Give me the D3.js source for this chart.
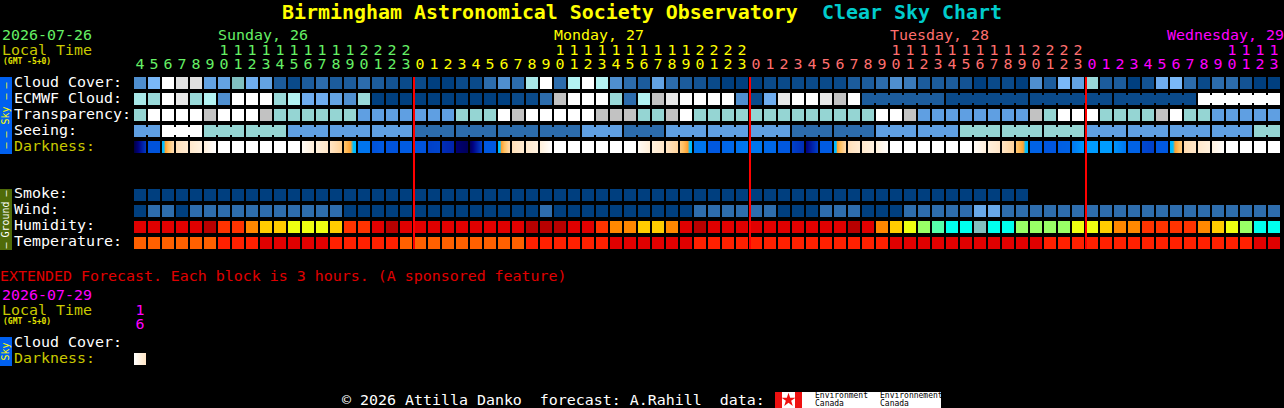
<!DOCTYPE html>
<html>
<head>
<meta charset="utf-8">
<title>Clear Sky Chart</title>
<script src="https://cdn.jsdelivr.net/npm/d3@7"></script>
<style>
html, body { margin: 0; padding: 0; background: #000; overflow: hidden; }
svg { display: block; }
text { font-family: "DejaVu Sans Mono", monospace; white-space: pre; }
rect { shape-rendering: crispEdges; }
</style>
</head>
<body>
<div id="chart"></div>
<script>
// cloud cover, percent
const cloudCover = [
  40,60,100,85,85,50,50,65,55,50,15,4,15,20,15,15,20,15,10,4,
  4,0,0,4,4,20,40,20,75,100,20,80,100,80,40,20,15,50,20,15,10,4,0,0,
  0,4,4,4,4,4,4,15,15,20,40,30,15,15,15,10,0,4,4,0,40,15,60,50,
  70,15,15,0,10,55,60,20,4,20,20,10,0,0
];
const ecmwfCloud = [
  75,70,100,90,70,80,40,100,100,100,70,80,55,55,50,40,70,0,0,0,
  0,0,0,0,0,0,0,4,4,20,95,100,100,100,70,20,80,95,90,100,100,100,100,40,
  4,55,90,100,100,90,95,100,15,15,15,15,15,15,4,4,4,4,4,4,4,4,4,4,
  4,4,4,4,4,4,4,4,100,100,100,100,100,100
];
// 0 white, 1 teal, 2 light blue, 3 blue, -1 grey
const transparency = [
  1,0,0,0,0,-1,0,0,0,-1,1,1,1,1,1,1,2,2,2,2,
  2,2,2,1,1,1,0,-1,0,0,0,0,0,-1,-1,-1,1,1,-1,0,1,1,1,1,
  1,1,1,1,1,1,1,1,1,0,0,-1,2,2,2,2,2,2,2,2,-1,1,0,0,
  0,1,1,1,1,-1,0,1,1,2,2,2,2,2
];
// seeing comes in 3 hour blocks
const seeingBlocks = [2,0,1,1,2,2,2,3,3,3,3,2,3,2,2,2,3,3,2,2,1,1,1,2,2,2,2,1];
const seeingSpans  = [2,3,3,3,3,3,3,3,3,3,3,3,3,3,3,3,3,3,3,3,3,3,3,3,3,3,3,2];
// ecmwf goes to 6 hour blocks at the end: [first column, columns]
const ecmwfSpans = [[52,6],[58,6],[64,6],[70,6],[76,6]];
// darkness, limiting magnitude at left and right side of each block
const darkStart = [
  6,2.2,-0.5,-2.4,-2.8,-3.2,-4,-4,-4,-4,-4,-4,-3.8,-3.2,-2.6,-1.5,1.1,2.3,2.2,1.9,
  2.2,3,3.6,5.2,5.6,2,-0.5,-2.4,-2.8,-3.2,-4,-4,-4,-4,-4,-4,-3.8,-3.2,-2.6,-1.7,1.1,2,1.6,1.2,
  1.1,1.5,2,3,5,1.9,-0.5,-2.4,-2.8,-3.2,-4,-4,-4,-4,-4,-4,-3.8,-3.2,-2.6,-1.6,1.7,2.1,1.8,1,
  0.1,0.1,0.3,1.7,2.7,2,-0.5,-2.3,-2.8,-3.3,-4,-4,-4,-4
];
const darkEnd = [
  3.2,2.2,-2.3,-2.9,-3.3,-4,-4,-4,-4,-4,-4,-4,-3.1,-2.7,-1.9,-0.6,1.1,1.9,2.2,1.9,
  2.2,2.8,3.9,5.6,3,2,-2.2,-2.9,-3.3,-4,-4,-4,-4,-4,-4,-4,-3.1,-2.7,-2,-0.6,1.1,2,1.5,1,
  1.1,1.5,2,3.6,3,1.9,-2.2,-2.9,-3.3,-3.9,-4,-4,-4,-4,-4,-4,-3.2,-2.7,-2,-0.6,1.7,2.1,1.7,0.2,
  0.1,0.1,1.1,1.7,3,2,-1.7,-2.7,-3.2,-3.9,-4,-4,-4,-4
];
const smokeCount = 64; // smoke forecast stops here, all clean air
// wind: 0 dark, 1 mid, 2 light
const wind = [
  0,1,1,0,1,1,1,1,1,1,1,1,1,1,1,0,0,0,0,0,
  0,0,0,0,0,0,0,0,0,1,0,0,0,0,0,0,0,0,0,0,1,1,1,1,
  1,1,0,0,0,1,1,1,0,0,0,1,1,1,1,1,2,2,1,1,1,1,1,1,
  1,1,1,1,1,1,1,1,1,1,1,1,1,1
];
// humidity band
const humidity = [
  1,1,1,1,1,0,2,2,3,4,4,5,5,5,4,2,2,1,0,1,
  1,1,1,1,1,1,1,1,0,0,0,1,1,2,3,3,4,4,3,1,0,1,1,1,
  1,1,1,1,1,1,1,0,1,3,4,5,6,7,8,8,9,8,8,6,6,6,6,5,
  5,4,3,3,2,2,2,2,3,4,5,6,8,8
];
// temperature band
const temperature = [
  2,2,2,2,2,2,1,1,1,0,0,0,0,0,1,1,1,1,1,2,
  2,2,2,2,2,2,2,2,1,1,1,1,1,1,0,0,0,0,0,0,1,1,1,1,
  1,1,1,1,1,1,1,1,1,1,0,0,0,0,0,0,0,0,0,0,0,1,1,1,
  1,1,1,1,1,1,1,1,1,1,1,1,0,0
];
const extendedDark = [[-4, -2.6]];

const firstHour = 4;
const hours = d3.range(cloudCover.length).map(i => (firstHour + i) % 24);
const days = [
  { name: 'Sunday, 26',    col: 6,  color: '#66f066', last: 19 },
  { name: 'Monday, 27',    col: 30, color: '#ffff00', last: 43 },
  { name: 'Tuesday, 28',   col: 54, color: '#ff6f6f', last: 67 },
  { name: 'Wednesday, 29', col: 74, color: '#ff00ff', last: 81 }
];
const midnights = [20, 44, 68];

const skyRows = ['Cloud Cover:', 'ECMWF Cloud:', 'Transparency:', 'Seeing:', 'Darkness:'];
const groundRows = ['Smoke:', 'Wind:', 'Humidity:', 'Temperature:'];

const width = 1284, height = 408, cell = 12;

const x = d3.scaleLinear().domain([0, 1]).range([134, 148]);
const ySky = d3.scaleLinear().domain([0, 1]).range([77, 93]);
const yGround = d3.scaleLinear().domain([0, 1]).range([189, 205]);

const cloudColor = d3.scaleOrdinal()
  .domain([0,4,10,15,20,30,40,50,55,60,65,70,75,80,85,90,95,100])
  .range(['#003f7f','#0a4a8a','#135393','#1c5c9c','#2c6cac','#3a7aba','#4f8fcf','#63a3e3','#6fadef','#7ab8f8',
          '#80bfbf','#99d9d9','#a8e8e8','#b3f3f3','#e0e0e0','#e8e8e8','#c2c2c2','#ffffff']);
const seeColor = d3.scaleOrdinal().domain([-1,0,1,2,3]).range(['#c2c2c2','#ffffff','#95d5d3','#5f9fe2','#2c6cac']);
const windColor = d3.scaleOrdinal().domain([0,1,2]).range(['#003f7f','#2e6dad','#68a8e8']);
const humidityColor = d3.scaleOrdinal().domain(d3.range(10))
  .range(['#b80000','#e00000','#ff3300','#ff8800','#ffcc00','#eeff11','#99ff66','#55ffaa','#00ffee','#80c0c0']);
const tempColor = d3.scaleOrdinal().domain([0,1,2]).range(['#e00000','#ff2000','#ff6000']);
const darkColor = d3.scaleLinear()
  .domain([-4,-3.2,-2.6,-2,-1.4,-1,-0.8,0,1,2,3,4,5,6])
  .range(['#ffffff','#fff0dc','#ffe4c4','#ffd49c','#ffc060','#ffa030','#00c0ff','#00a0ff','#0078f0','#0058e0','#0040c8','#0020a8','#000080','#000040'])
  .clamp(true);

const svg = d3.select('#chart').append('svg')
  .attr('width', width)
  .attr('height', height);

function addText(g, str, px, py, color, size, bold) {
  return g.append('text')
    .attr('x', px)
    .attr('y', py)
    .attr('fill', color)
    .attr('font-size', size || 14.95)
    .attr('font-weight', bold ? 'bold' : 'normal')
    .text(str);
}

// title
const head = svg.append('g').attr('class', 'head');
addText(head, 'Birmingham Astronomical Society Observatory', 282, 19, '#ffff00', 19.93, true);
addText(head, 'Clear Sky Chart', 822, 19, '#00cccc', 19.93, true);
addText(head, '2026-07-26', 2, 40, '#66f066');
addText(head, 'Local Time', 2, 55, '#c8c800');
addText(head, '(GMT -5+0)', 3, 64, '#e0e000', 8, true);

days.forEach(d => {
  addText(head, d.name, Math.min(x(d.col), width - d.name.length * 9), 40, d.color);
});

hours.forEach((h, i) => {
  const day = days.find(d => i <= d.last);
  if (h >= 10) {
    addText(head, String(Math.floor(h / 10)), x(i) + cell / 2, 55, day.color).attr('text-anchor', 'middle');
  }
  addText(head, String(h % 10), x(i) + cell / 2, 69, day.color).attr('text-anchor', 'middle');
});

// plain blocks, one per column
function drawRow(g, values, y, color) {
  g.append('g').selectAll('rect')
    .data(values)
    .join('rect')
    .attr('x', (d, i) => x(i))
    .attr('y', y)
    .attr('width', cell)
    .attr('height', cell)
    .attr('fill', d => color(d));
}

// the gap between two columns of one forecast block is filled in the middle
function drawBridges(g, spans, y, color) {
  spans.forEach(s => {
    d3.range(s.col, s.col + s.n - 1).forEach(c => {
      g.append('rect')
        .attr('x', x(c) + cell)
        .attr('y', y + 2)
        .attr('width', x(1) - x(0) - cell)
        .attr('height', cell - 4)
        .attr('fill', color(s.value));
    });
  });
}

// darkness blocks fade from left to right, so one rect per pixel column
function drawDarkness(g, starts, ends, y) {
  starts.forEach((s, c) => {
    const t = d3.interpolateNumber(s, ends[c]);
    d3.range(cell).forEach(p => {
      g.append('rect')
        .attr('x', x(c) + p)
        .attr('y', y)
        .attr('width', 1)
        .attr('height', cell)
        .attr('fill', darkColor(t((p + 0.5) / cell)));
    });
  });
}

const sky = svg.append('g').attr('class', 'sky');
drawRow(sky, cloudCover, ySky(0), cloudColor);
drawRow(sky, ecmwfCloud, ySky(1), cloudColor);
drawBridges(sky, ecmwfSpans.map(s => ({ col: s[0], n: s[1], value: ecmwfCloud[s[0]] })), ySky(1), cloudColor);
drawRow(sky, transparency, ySky(2), seeColor);

let col = 0;
const seeing = [], seeingGroups = [];
seeingBlocks.forEach((v, i) => {
  seeingGroups.push({ col: col, n: seeingSpans[i], value: v });
  d3.range(seeingSpans[i]).forEach(() => seeing.push(v));
  col += seeingSpans[i];
});
drawRow(sky, seeing, ySky(3), seeColor);
drawBridges(sky, seeingGroups, ySky(3), seeColor);
drawDarkness(sky, darkStart, darkEnd, ySky(4));

const ground = svg.append('g').attr('class', 'ground');
drawRow(ground, d3.range(smokeCount).map(() => 0), yGround(0), windColor);
drawRow(ground, wind, yGround(1), windColor);
drawRow(ground, humidity, yGround(2), humidityColor);
drawRow(ground, temperature, yGround(3), tempColor);

// row labels
skyRows.forEach((r, i) => {
  addText(svg, r, 14, ySky(i) + 10, i === 4 ? '#c8c800' : '#ffffff');
});
groundRows.forEach((r, i) => {
  addText(svg, r, 14, yGround(i) + 9, '#ffffff');
});

// midnight lines
svg.append('g').selectAll('rect')
  .data(midnights)
  .join('rect')
  .attr('x', d => x(d) - 1)
  .attr('y', 77)
  .attr('width', 2)
  .attr('height', 172)
  .attr('fill', '#ff0000');

// side bars
function sideBar(y, h, color, textColor, label, dashes) {
  svg.append('rect')
    .attr('x', 0)
    .attr('y', y)
    .attr('width', 12)
    .attr('height', h)
    .attr('fill', color);
  const mid = y + h / 2;
  addText(svg, label, 0, 0, textColor, 10)
    .attr('text-anchor', 'middle')
    .attr('transform', 'translate(9,' + mid + ') rotate(-90)');
  dashes.forEach(o => {
    addText(svg, '\u2013', 0, 0, textColor, 10)
      .attr('text-anchor', 'middle')
      .attr('transform', 'translate(9,' + (mid + o) + ') rotate(-90)');
  });
}
sideBar(77, 77, '#0060f0', '#ffff00', 'Sky', [-30, -19, 19, 30]);
sideBar(189, 61, '#4f6b08', '#ffffff', 'Ground', [-26, 26]);

// extended forecast
const ext = svg.append('g').attr('class', 'extended');
addText(ext, 'EXTENDED Forecast. Each block is 3 hours. (A sponsored feature)', 0, 281, '#e00000');
addText(ext, '2026-07-29', 2, 300, '#ff00ff');
addText(ext, 'Local Time', 2, 315, '#c8c800');
addText(ext, '(GMT -5+0)', 3, 324, '#e0e000', 8, true);
addText(ext, '1', x(0) + cell / 2, 315, '#ff00ff').attr('text-anchor', 'middle');
addText(ext, '6', x(0) + cell / 2, 329, '#ff00ff').attr('text-anchor', 'middle');
addText(ext, 'Cloud Cover:', 14, 347, '#ffffff');
addText(ext, 'Darkness:', 14, 363, '#c8c800');
drawDarkness(ext, extendedDark.map(d => d[0]), extendedDark.map(d => d[1]), 353);
sideBar(337, 29, '#0060f0', '#ffff00', 'Sky', []);

// footer
const foot = svg.append('g').attr('class', 'foot');
addText(foot, '\u00a9 2026 Attilla Danko  forecast: A.Rahill  data:', 342, 405, '#ffffff');
foot.append('rect').attr('x', 775).attr('y', 392).attr('width', 166).attr('height', 16).attr('fill', '#ffffff');
foot.append('rect').attr('x', 775).attr('y', 392).attr('width', 7).attr('height', 16).attr('fill', '#ee1111');
foot.append('rect').attr('x', 795).attr('y', 392).attr('width', 7).attr('height', 16).attr('fill', '#ee1111');
foot.append('path')
  .attr('d', d3.symbol(d3.symbolStar, 60)())
  .attr('transform', 'translate(788.5,400)')
  .attr('fill', '#ee1111');
[['Environment', 815], ['Environnement', 880]].forEach(t => {
  addText(foot, t[0], t[1], 398, '#000000', 8);
  addText(foot, 'Canada', t[1], 406, '#000000', 8);
});
</script>
</body>
</html>
